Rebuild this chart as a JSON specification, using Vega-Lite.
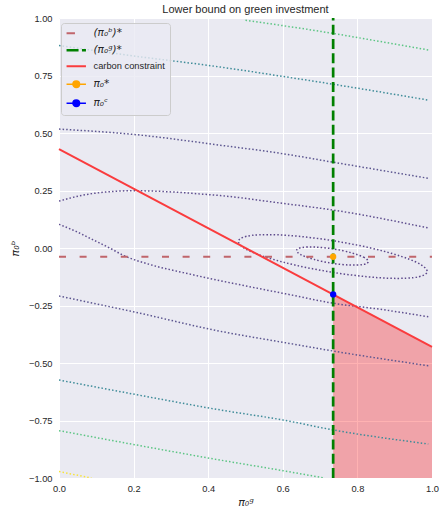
{
  "$schema": "https://vega.github.io/schema/vega-lite/v6.json",
  "width": 373,
  "height": 460,
  "autosize": {"type": "none"},
  "padding": {"left": 59, "top": 18, "right": 8, "bottom": 32},
  "title": {"text": "Lower bound on green investment", "font": "Liberation Sans", "fontSize": 11, "fontWeight": "normal", "color": "#262626", "offset": 0, "dy": 11, "frame": "group", "baseline": "alphabetic"},
  "config": {
    "view": {"stroke": null, "fill": "#EAEAF2"},
    "axis": {"domain": false, "ticks": false, "tickSize": 0, "grid": true, "gridColor": "#ffffff", "gridWidth": 1, "labelFont": "Liberation Sans", "labelFontSize": 9.3, "labelColor": "#262626", "labelFlush": false, "labelOverlap": false, "titleFont": "DejaVu Sans", "titleFontStyle": "italic", "titleFontWeight": "normal", "titleFontSize": 11, "titleColor": "#262626"}
  },
  "datasets": {
    "open": [
      {"id": "L1", "lv": "g", "i": 0, "x": 0.50, "y": 0.99},
      {"id": "L1", "lv": "g", "i": 1, "x": 0.62, "y": 0.962},
      {"id": "L1", "lv": "g", "i": 2, "x": 0.735, "y": 0.933},
      {"id": "L1", "lv": "g", "i": 3, "x": 0.86, "y": 0.898},
      {"id": "L1", "lv": "g", "i": 4, "x": 0.99, "y": 0.861},
      {"id": "L2", "lv": "t", "i": 0, "x": 0, "y": 0.880},
      {"id": "L2", "lv": "t", "i": 1, "x": 0.2, "y": 0.835},
      {"id": "L2", "lv": "t", "i": 2, "x": 0.432, "y": 0.787},
      {"id": "L2", "lv": "t", "i": 3, "x": 0.6, "y": 0.746},
      {"id": "L2", "lv": "t", "i": 4, "x": 0.735, "y": 0.712},
      {"id": "L2", "lv": "t", "i": 5, "x": 0.99, "y": 0.643},
      {"id": "L3", "lv": "p4", "i": 0, "x": 0, "y": 0.517},
      {"id": "L3", "lv": "p4", "i": 1, "x": 0.199, "y": 0.494},
      {"id": "L3", "lv": "p4", "i": 2, "x": 0.432, "y": 0.447},
      {"id": "L3", "lv": "p4", "i": 3, "x": 0.6, "y": 0.41},
      {"id": "L3", "lv": "p4", "i": 4, "x": 0.735, "y": 0.373},
      {"id": "L3", "lv": "p4", "i": 5, "x": 0.99, "y": 0.303},
      {"id": "L4", "lv": "p3", "i": 0, "x": 0, "y": 0.204},
      {"id": "L4", "lv": "p3", "i": 1, "x": 0.065, "y": 0.230},
      {"id": "L4", "lv": "p3", "i": 2, "x": 0.137, "y": 0.245},
      {"id": "L4", "lv": "p3", "i": 3, "x": 0.199, "y": 0.249},
      {"id": "L4", "lv": "p3", "i": 4, "x": 0.288, "y": 0.245},
      {"id": "L4", "lv": "p3", "i": 5, "x": 0.378, "y": 0.235},
      {"id": "L4", "lv": "p3", "i": 6, "x": 0.432, "y": 0.228},
      {"id": "L4", "lv": "p3", "i": 7, "x": 0.6, "y": 0.194},
      {"id": "L4", "lv": "p3", "i": 8, "x": 0.735, "y": 0.165},
      {"id": "L4", "lv": "p3", "i": 9, "x": 0.99, "y": 0.087},
      {"id": "L5", "lv": "p3", "i": 0, "x": 0, "y": 0.103},
      {"id": "L5", "lv": "p3", "i": 1, "x": 0.047, "y": 0.071},
      {"id": "L5", "lv": "p3", "i": 2, "x": 0.092, "y": 0.035},
      {"id": "L5", "lv": "p3", "i": 3, "x": 0.137, "y": -0.001},
      {"id": "L5", "lv": "p3", "i": 4, "x": 0.174, "y": -0.033},
      {"id": "L5", "lv": "p3", "i": 5, "x": 0.244, "y": -0.072},
      {"id": "L5", "lv": "p3", "i": 6, "x": 0.333, "y": -0.107},
      {"id": "L5", "lv": "p3", "i": 7, "x": 0.432, "y": -0.142},
      {"id": "L5", "lv": "p3", "i": 8, "x": 0.61, "y": -0.200},
      {"id": "L5", "lv": "p3", "i": 9, "x": 0.735, "y": -0.240},
      {"id": "L5", "lv": "p3", "i": 10, "x": 0.868, "y": -0.268},
      {"id": "L5", "lv": "p3", "i": 11, "x": 0.99, "y": -0.299},
      {"id": "L6", "lv": "p4", "i": 0, "x": 0, "y": -0.209},
      {"id": "L6", "lv": "p4", "i": 1, "x": 0.199, "y": -0.277},
      {"id": "L6", "lv": "p4", "i": 2, "x": 0.432, "y": -0.362},
      {"id": "L6", "lv": "p4", "i": 3, "x": 0.6, "y": -0.41},
      {"id": "L6", "lv": "p4", "i": 4, "x": 0.735, "y": -0.448},
      {"id": "L6", "lv": "p4", "i": 5, "x": 0.99, "y": -0.512},
      {"id": "L7", "lv": "t", "i": 0, "x": 0, "y": -0.574},
      {"id": "L7", "lv": "t", "i": 1, "x": 0.199, "y": -0.635},
      {"id": "L7", "lv": "t", "i": 2, "x": 0.432, "y": -0.704},
      {"id": "L7", "lv": "t", "i": 3, "x": 0.601, "y": -0.748},
      {"id": "L7", "lv": "t", "i": 4, "x": 0.735, "y": -0.791},
      {"id": "L7", "lv": "t", "i": 5, "x": 0.99, "y": -0.852},
      {"id": "L8", "lv": "g", "i": 0, "x": 0, "y": -0.794},
      {"id": "L8", "lv": "g", "i": 1, "x": 0.199, "y": -0.854},
      {"id": "L8", "lv": "g", "i": 2, "x": 0.432, "y": -0.922},
      {"id": "L8", "lv": "g", "i": 3, "x": 0.6, "y": -0.968},
      {"id": "L8", "lv": "g", "i": 4, "x": 0.712, "y": -1.0},
      {"id": "L9", "lv": "y", "i": 0, "x": 0, "y": -0.972},
      {"id": "L9", "lv": "y", "i": 1, "x": 0.087, "y": -1.0}
    ],
    "ell": [
      {"id": "E1", "lv": "p1", "i": 0, "x": 0.829, "y": -0.060},
      {"id": "E1", "lv": "p1", "i": 1, "x": 0.818, "y": -0.041},
      {"id": "E1", "lv": "p1", "i": 2, "x": 0.784, "y": -0.021},
      {"id": "E1", "lv": "p1", "i": 3, "x": 0.736, "y": -0.004},
      {"id": "E1", "lv": "p1", "i": 4, "x": 0.688, "y": 0.004},
      {"id": "E1", "lv": "p1", "i": 5, "x": 0.651, "y": 0.002},
      {"id": "E1", "lv": "p1", "i": 6, "x": 0.637, "y": -0.010},
      {"id": "E1", "lv": "p1", "i": 7, "x": 0.648, "y": -0.029},
      {"id": "E1", "lv": "p1", "i": 8, "x": 0.682, "y": -0.049},
      {"id": "E1", "lv": "p1", "i": 9, "x": 0.730, "y": -0.066},
      {"id": "E1", "lv": "p1", "i": 10, "x": 0.778, "y": -0.074},
      {"id": "E1", "lv": "p1", "i": 11, "x": 0.815, "y": -0.072},
      {"id": "E2", "lv": "p2", "i": 0, "x": 0.987, "y": -0.104},
      {"id": "E2", "lv": "p2", "i": 1, "x": 0.957, "y": -0.061},
      {"id": "E2", "lv": "p2", "i": 2, "x": 0.866, "y": -0.012},
      {"id": "E2", "lv": "p2", "i": 3, "x": 0.741, "y": 0.030},
      {"id": "E2", "lv": "p2", "i": 4, "x": 0.613, "y": 0.055},
      {"id": "E2", "lv": "p2", "i": 5, "x": 0.518, "y": 0.055},
      {"id": "E2", "lv": "p2", "i": 6, "x": 0.481, "y": 0.030},
      {"id": "E2", "lv": "p2", "i": 7, "x": 0.511, "y": -0.013},
      {"id": "E2", "lv": "p2", "i": 8, "x": 0.602, "y": -0.062},
      {"id": "E2", "lv": "p2", "i": 9, "x": 0.727, "y": -0.104},
      {"id": "E2", "lv": "p2", "i": 10, "x": 0.855, "y": -0.129},
      {"id": "E2", "lv": "p2", "i": 11, "x": 0.950, "y": -0.129}
    ],
    "refs": [
      {"s": "a", "i": 0, "x": 0, "y": -0.038},
      {"s": "a", "i": 1, "x": 1, "y": -0.038},
      {"s": "b", "i": 0, "x": 0.735, "y": -1},
      {"s": "b", "i": 1, "x": 0.735, "y": 1},
      {"s": "c", "i": 0, "x": 0, "y": 0.43},
      {"s": "c", "i": 1, "x": 1, "y": -0.43}
    ],
    "pts": [
      {"s": "d", "x": 0.735, "y": -0.038},
      {"s": "e", "x": 0.735, "y": -0.202}
    ],
    "region": [
      {"x": 0.735, "y": -0.202, "y2": -1},
      {"x": 1, "y": -0.43, "y2": -1}
    ]
  },
  "encoding": {
    "x": {"field": "x", "type": "quantitative", "scale": {"domain": [0, 1], "nice": false, "zero": false},
      "axis": {"values": [0, 0.2, 0.4, 0.6, 0.8, 1], "format": ".1f", "labelPadding": 6, "title": "π₀ᵍ", "titlePadding": 3}},
    "y": {"field": "y", "type": "quantitative", "scale": {"domain": [-1, 1], "nice": false, "zero": false},
      "axis": {"values": [-1, -0.75, -0.5, -0.25, 0, 0.25, 0.5, 0.75, 1], "format": ".2f", "labelPadding": 7, "title": "π₀ᵇ", "titlePadding": 8}}
  },
  "layer": [
    {
      "data": {"name": "region"},
      "mark": {"type": "area", "color": "#ff0000", "opacity": 0.3},
      "encoding": {"y2": {"field": "y2"}}
    },
    {
      "data": {"name": "open"},
      "mark": {"type": "line", "interpolate": "monotone", "strokeWidth": 1.5, "strokeDash": [1.5, 2.1], "clip": true},
      "encoding": {
        "detail": {"field": "id"},
        "order": {"field": "i", "type": "quantitative"},
        "stroke": {"field": "lv", "type": "nominal", "legend": null,
          "scale": {"domain": ["p1", "p2", "p3", "p4", "t", "g", "y"], "range": ["#5d4488", "#5e4a8c", "#5f4f8f", "#5c5690", "#3f8c99", "#5cc584", "#f7e43c"]}}
      }
    },
    {
      "data": {"name": "ell"},
      "mark": {"type": "line", "interpolate": "cardinal-closed", "strokeWidth": 1.5, "strokeDash": [1.5, 2.1], "clip": true},
      "encoding": {
        "detail": {"field": "id"},
        "order": {"field": "i", "type": "quantitative"},
        "stroke": {"field": "lv", "type": "nominal", "legend": null}
      }
    },
    {
      "data": {"name": "refs"},
      "transform": [{"filter": "datum.s === 'a'"}],
      "mark": {"type": "line", "strokeWidth": 2, "strokeDash": [7, 13.6]},
      "encoding": {
        "order": {"field": "i", "type": "quantitative"},
        "color": {"field": "s", "type": "nominal",
          "scale": {"domain": ["a", "b", "c", "d", "e"], "range": ["#c0656b", "#008000", "#fa3c3e", "#ffa500", "#0000ff"]},
          "legend": {
            "orient": "none", "legendX": 2, "legendY": 5, "title": null,
            "fillColor": "rgba(234,234,242,0.8)", "strokeColor": "#cccccc", "cornerRadius": 3, "padding": 5,
            "rowPadding": 5, "symbolSize": 100, "labelOffset": 17, "labelFontSize": 10.5, "labelColor": "#262626", "labelFont": "DejaVu Sans",
            "labelExpr": "datum.value === 'a' ? '(π₀ᵇ)*' : datum.value === 'b' ? '(π₀ᵍ)*' : datum.value === 'c' ? 'carbon constraint' : datum.value === 'd' ? 'π₀*' : 'π₀ᶜ'",
            "encode": {
              "symbols": {"update": {
                "shape": {"signal": "datum.value === 'a' ? 'M-0.94,0H0.74' : datum.value === 'b' ? 'M-0.94,0H1.46M2.14,0H2.94' : datum.value === 'c' ? 'M-0.94,0H2.94' : 'M-0.94,0H2.94M0.35,0A0.65,0.65 0 1,1 1.65,0A0.65,0.65 0 1,1 0.35,0Z'"},
                "stroke": {"signal": "scale('color', datum.value)"},
                "fill": {"signal": "(datum.value === 'd' || datum.value === 'e') ? scale('color', datum.value) : 'transparent'"},
                "strokeWidth": {"signal": "datum.value === 'b' ? 2.7 : (datum.value === 'a' || datum.value === 'c') ? 2 : 1.6"},
                "strokeDash": {"value": []},
                "opacity": {"value": 1},
                "size": {"value": 100}
              }},
              "labels": {"update": {
                "font": {"signal": "datum.value === 'c' ? 'Liberation Sans' : 'DejaVu Sans'"},
                "fontStyle": {"signal": "datum.value === 'c' ? 'normal' : 'italic'"},
                "fontSize": {"signal": "datum.value === 'c' ? 9.3 : 10.5"}
              }}
            }
          }}
      }
    },
    {
      "data": {"name": "refs"},
      "transform": [{"filter": "datum.s === 'b'"}],
      "mark": {"type": "line", "strokeWidth": 2.7, "strokeDash": [10, 4.3]},
      "encoding": {
        "order": {"field": "i", "type": "quantitative"},
        "color": {"field": "s", "type": "nominal"}
      }
    },
    {
      "data": {"name": "refs"},
      "transform": [{"filter": "datum.s === 'c'"}],
      "mark": {"type": "line", "strokeWidth": 2},
      "encoding": {
        "order": {"field": "i", "type": "quantitative"},
        "color": {"field": "s", "type": "nominal"}
      }
    },
    {
      "data": {"name": "pts"},
      "mark": {"type": "point", "filled": true, "size": 40, "opacity": 1},
      "encoding": {
        "color": {"field": "s", "type": "nominal"}
      }
    }
  ]
}
